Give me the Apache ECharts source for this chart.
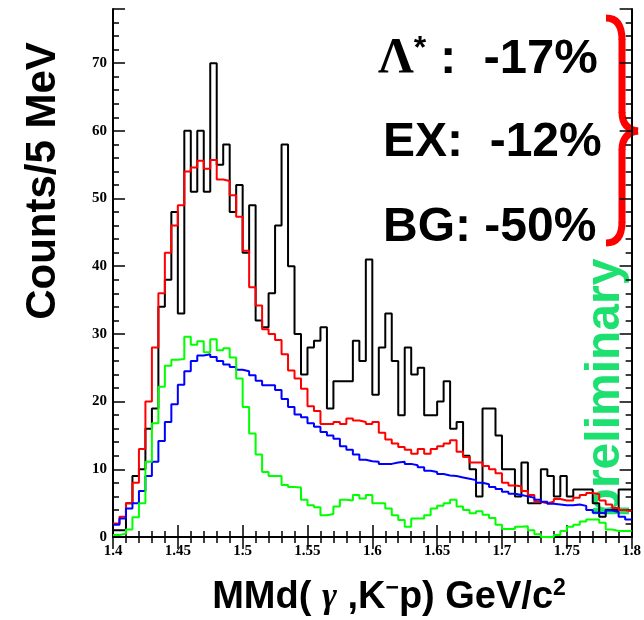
<!DOCTYPE html>
<html>
<head>
<meta charset="utf-8">
<script src="https://cdn.jsdelivr.net/npm/echarts@6/dist/echarts.min.js"></script>
<style>html,body{margin:0;padding:0;background:#fff;}#c{width:644px;height:620px;}</style>
</head>
<body>
<div id="c"></div>
<script>
// Bin layout: 80 bins of 5 MeV from 1.40 to 1.80 GeV/c^2
const binStart = 1.4;
const binWidth = 0.005;
const xTickLabels = ['1.4','1.45','1.5','1.55','1.6','1.65','1.7','1.75','1.8'];
const yTickLabels = ['0','10','20','30','40','50','60','70'];

// Data (black)
const dataCounts = [1,1,5,9,10,16,19,34,38,48,
  33,60,51,60,51,70,55,58,48,52,
  42,49,32,31,36,46,58,40,30,24,
  28,29,31,19,23,23,23,29,26,41,
  21,28,33,26,18,28,24,25,18,18,
  20,23,16,17,12,10,6,19,19,15,
  10,10,6,11,5,5,10,9,6,9,
  6,7,7,7,5,3,4,4,7,7];
// Total fit (red)
const totalFit = [2,3,5,8,13,20,28,36,42,46,
  49,54,54.6,55.6,54.4,55.7,52.8,52.6,50.5,47.3,
  42.3,36.9,34.2,30.7,30,29.1,27,24.6,23.4,21.9,
  19.3,18.6,16.7,16.7,17,16.7,17.5,17.2,17,16.7,
  17,15.4,14.4,13.8,13.3,12.9,12.3,13,12.3,13,
  13.4,13.8,14.3,12.6,11.8,11,11,10.5,10,9.4,
  8,7.6,7.5,6.8,6.2,5.2,5,5.2,5.6,5.4,
  5.4,5.8,6.2,6.5,6.3,5.4,4.8,4.3,4,3.8];
// Blue component
const blueComp = [1.8,2.75,4.2,5,6.8,9,11.1,14.2,17,19.6,
  22.5,24.5,26,26.8,27,26.6,26,25.5,25.1,24.7,
  24.5,23.9,23.1,22.4,22.4,21.7,20.4,19.2,18.1,17.7,
  16.8,16.3,15.5,15,14.5,13.4,12.9,12.2,11.4,11.2,
  11.1,10.8,10.8,11,11.1,10.8,10.6,10.3,9.8,9.6,
  9.3,9.1,9,8.8,8.6,8.4,8,7.8,7.4,7.1,
  6.7,6.4,6.2,6,5.8,5.5,5.2,4.9,4.8,4.7,
  4.7,4.8,4.6,4,3.6,3.5,3.9,3.7,3,2.6];
// Green component
const greenComp = [0.3,0.5,1.1,2.9,5,11.1,16.8,22.2,25.3,26.2,
  26.3,29.6,28.4,28.9,27.3,29.2,27.6,27.9,26.5,23.4,
  19.2,15.3,12.2,9.6,9,9,7.7,7.4,7.3,5.5,
  4.7,4.4,3.2,3.4,4.5,5.5,5.4,6.2,5.7,6.2,
  5,5,4.2,3.2,2.5,1.5,2.75,2.75,3.2,4.2,
  4.6,5,5.5,4.5,4,3.5,3.8,3.3,2.8,1.8,
  1.2,1.2,1.5,1.6,1,0.4,0,0,0.3,0.9,
  1.5,1.8,2.3,2.6,2.6,2.1,1.1,0.9,0.9,0.9];

function hist(vals){
  const pts = vals.map((v,i)=>[+(binStart+i*binWidth).toFixed(3), v]);
  pts.push([+(binStart+vals.length*binWidth).toFixed(3), vals[vals.length-1]]);
  return pts;
}

const chart = echarts.init(document.getElementById('c'), null, {renderer:'canvas'});
const tickFont = {fontFamily:'Liberation Serif', fontWeight:'bold', fontSize:15, color:'#000'};
function axisCommon(){
  return {
    axisLine:{show:true, lineStyle:{color:'#000', width:2}},
    axisTick:{show:true, inside:true, length:12, lineStyle:{color:'#000', width:1.5}},
    minorTick:{show:true, splitNumber:5, length:6, lineStyle:{color:'#000', width:1.5}},
    splitLine:{show:false}
  };
}
function series(name, vals, color){
  return {name, type:'line', step:'end', data:hist(vals), symbol:'none', showSymbol:false,
    lineStyle:{color, width:2}, itemStyle:{color}, xAxisIndex:0, yAxisIndex:0};
}
const red = '#ff0000';
chart.setOption({
  animation:false,
  grid:{left:113, right:2, top:9, bottom:83},
  xAxis:[
    Object.assign({type:'value', min:1.4, max:1.8, interval:0.05, position:'bottom',
      axisLabel:Object.assign({margin:7, formatter:(v)=>{const i=Math.round((v-1.4)/0.05);return xTickLabels[i]||'';}}, tickFont)}, axisCommon()),
    Object.assign({type:'value', min:1.4, max:1.8, interval:0.05, position:'top', axisLabel:{show:false}}, axisCommon())
  ],
  yAxis:[
    Object.assign({type:'value', min:0, max:78, interval:10, position:'left',
      axisLabel:Object.assign({margin:6, showMaxLabel:false, formatter:(v)=>{const i=Math.round(v/10);return (Math.abs(v-i*10)<1e-6)?(yTickLabels[i]||''):'';}}, tickFont)}, axisCommon()),
    Object.assign({type:'value', min:0, max:78, interval:10, position:'right', axisLabel:{show:false}}, axisCommon())
  ],
  series:[
    series('data', dataCounts, '#000000'),
    series('total', totalFit, '#ff0000'),
    series('blue', blueComp, '#0000ff'),
    series('green', greenComp, '#00ff00')
  ],
  graphic:[
    {type:'text', x:43, y:181, rotation:Math.PI/2, style:{text:'Counts/5 MeV', font:'bold 42px "Liberation Sans"', fill:'#000', textAlign:'center', textVerticalAlign:'middle'}},
    {type:'text', x:389, y:598, style:{
      text:'{a|MMd( }{g|γ}{a| ,K}{s|−}{a|p) GeV/c}{s|2}',
      textAlign:'center', textVerticalAlign:'middle',
      rich:{
        a:{font:'bold 38px "Liberation Sans"', fill:'#000', lineHeight:42, verticalAlign:'middle'},
        g:{font:'italic bold 36px "Liberation Serif"', fill:'#000', lineHeight:42, verticalAlign:'middle'},
        s:{font:'bold 23px "Liberation Sans"', fill:'#000', lineHeight:42, verticalAlign:'top'}
      }}},
    {type:'text', x:378, y:59, style:{
      text:'{l|Λ}{s|*}{a| :  -17%}', textAlign:'left', textVerticalAlign:'middle',
      rich:{
        l:{font:'bold 50px "Liberation Serif"', fill:'#000', lineHeight:52, verticalAlign:'middle'},
        s:{font:'bold 32px "Liberation Sans"', fill:'#000', lineHeight:52, verticalAlign:'top'},
        a:{font:'bold 49px "Liberation Sans"', fill:'#000', lineHeight:52, verticalAlign:'middle'}
      }}},
    {type:'text', x:383, y:143, style:{text:'EX:  -12%', font:'bold 48px "Liberation Sans"', fill:'#000', textAlign:'left', textVerticalAlign:'middle'}},
    {type:'text', x:383, y:228, style:{text:'BG: -50%', font:'bold 48px "Liberation Sans"', fill:'#000', textAlign:'left', textVerticalAlign:'middle'}},
    {type:'bezierCurve', shape:{x1:606, y1:18, cpx1:622, cpy1:18, x2:622, y2:40}, style:{fill:'none', stroke:red, lineWidth:7}},
    {type:'line', shape:{x1:622, y1:39, x2:622, y2:113}, style:{stroke:red, lineWidth:7}},
    {type:'bezierCurve', shape:{x1:622, y1:112, cpx1:622, cpy1:129, x2:638, y2:131}, style:{fill:'none', stroke:red, lineWidth:7}},
    {type:'bezierCurve', shape:{x1:638, y1:131, cpx1:622, cpy1:133, x2:622, y2:150}, style:{fill:'none', stroke:red, lineWidth:7}},
    {type:'line', shape:{x1:622, y1:149, x2:622, y2:223}, style:{stroke:red, lineWidth:7}},
    {type:'bezierCurve', shape:{x1:622, y1:222, cpx1:622, cpy1:243, x2:606, y2:243}, style:{fill:'none', stroke:red, lineWidth:7}},
    {type:'text', x:606, y:388, rotation:Math.PI/2, style:{text:'preliminary', font:'bold 48px "Liberation Sans"', fill:'#1ee070', textAlign:'center', textVerticalAlign:'middle'}}
  ]
});
</script>
</body>
</html>
